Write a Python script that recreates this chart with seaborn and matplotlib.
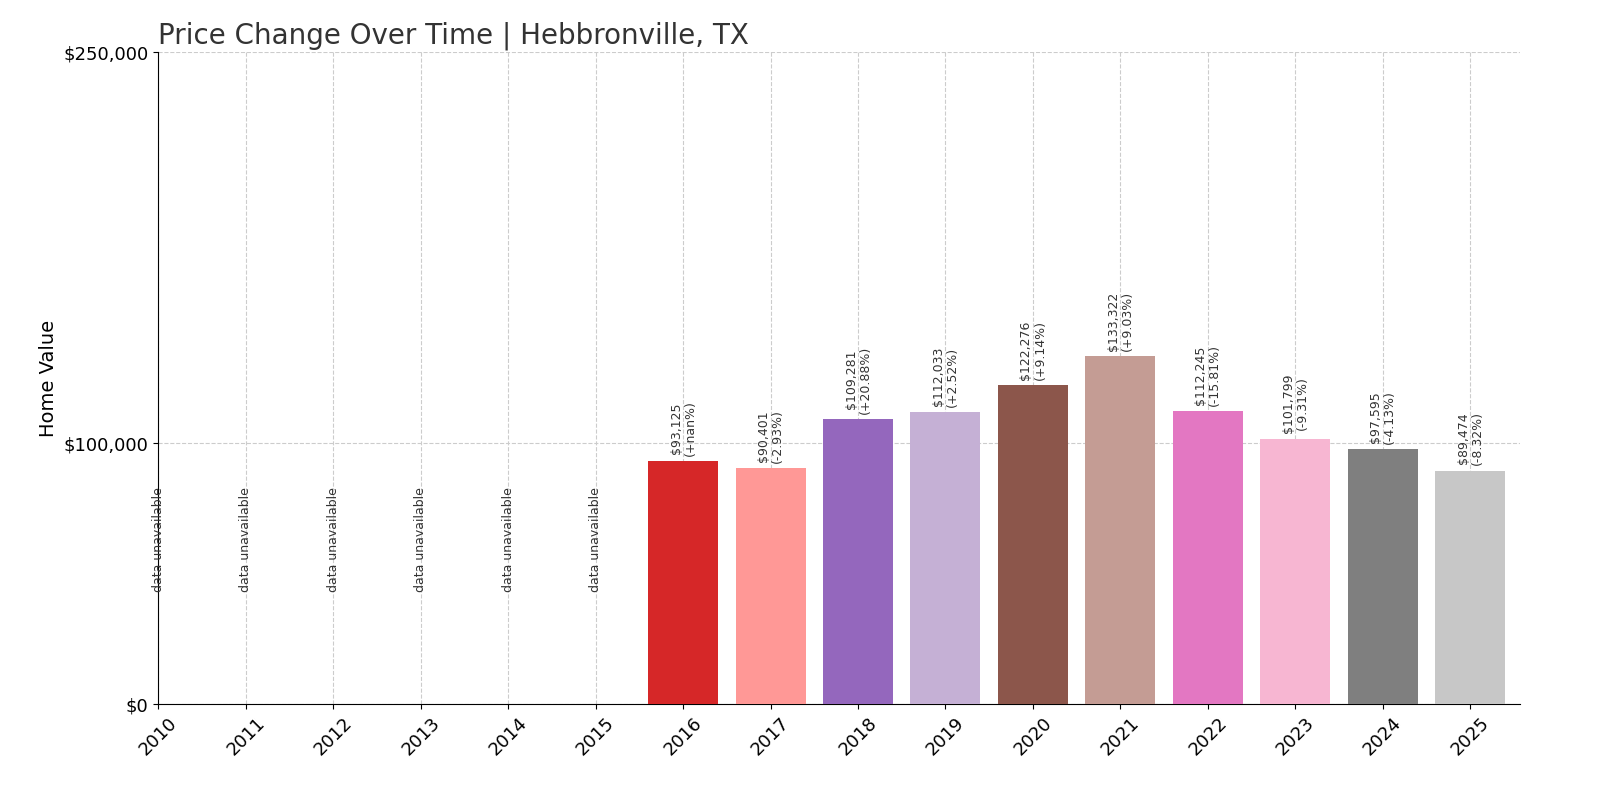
import numpy as np
import pandas as pd
import seaborn as sns
import matplotlib.pyplot as plt

years = [str(y) for y in range(2010, 2026)]
values = [np.nan] * 6 + [93125, 90401, 109281, 112033, 122276, 133322,
                         112245, 101799, 97595, 89474]
changes = [None] * 6 + ["+nan%", "-2.93%", "+20.88%", "+2.52%", "+9.14%", "+9.03%",
                        "-15.81%", "-9.31%", "-4.13%", "-8.32%"]

df = pd.DataFrame({"year": years, "value": values})

fig, ax = plt.subplots(figsize=(16, 8), dpi=100)
sns.barplot(data=df, x="year", y="value", hue="year", palette="tab20",
            legend=False, width=0.8, saturation=1, ax=ax, zorder=3)

for i, (v, c) in enumerate(zip(values, changes)):
    if np.isnan(v):
        ax.text(i, 43000, "data unavailable", rotation=90, ha="center", va="bottom",
                fontsize=9, color="#333333")
    else:
        ax.text(i, v + 2000, f"${v:,.0f}\n({c})", rotation=90, ha="center", va="bottom",
                fontsize=9, color="#333333", linespacing=1.1)

ax.set_xlim(0, 15.57)
ax.set_ylim(0, 250000)
ax.set_yticks([0, 100000, 250000])
ax.set_yticklabels(["$0", "$100,000", "$250,000"], fontsize=13)
ax.tick_params(axis="x", labelsize=13, rotation=45)
ax.set_xlabel("")
ax.set_ylabel("Home Value", fontsize=14)
ax.grid(True, linestyle="--", color="#cccccc", linewidth=0.8, zorder=0)
ax.set_axisbelow(True)
for s in ["top", "right"]:
    ax.spines[s].set_visible(False)
ax.set_title("Price Change Over Time | Hebbronville, TX", loc="left",
             fontsize=20, color="#333333")

plt.subplots_adjust(left=0.099, right=0.95, top=0.935, bottom=0.12)
plt.savefig("out.png", dpi=100)
